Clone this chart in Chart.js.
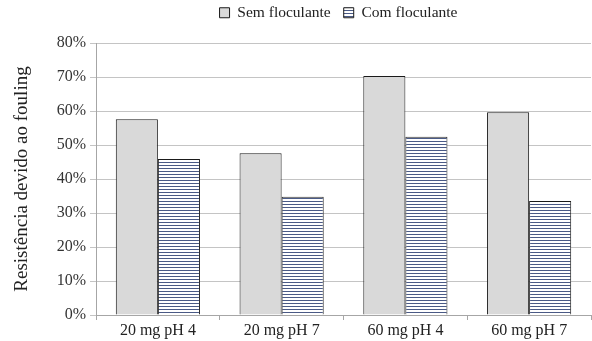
<!DOCTYPE html>
<html>
<head>
<meta charset="utf-8">
<script src="https://cdn.jsdelivr.net/npm/chart.js@4.4.1/dist/chart.umd.min.js"></script>
<style>
  html, body { margin: 0; padding: 0; background: #fff; }
  #wrap { width: 592px; height: 341px; position: relative; }
</style>
</head>
<body>
<div id="wrap"><canvas id="c"></canvas></div>
<script>
// Resistência devido ao fouling - sem vs com floculante
const categories = ['20 mg pH 4', '20 mg pH 7', '60 mg pH 4', '60 mg pH 7'];
const semFloculante = [57.6, 47.6, 70.3, 59.6];
const comFloculante = [45.9, 34.8, 52.4, 33.5];
const yTicks = [0, 10, 20, 30, 40, 50, 60, 70, 80];

const serif = '"Liberation Serif", "DejaVu Serif", serif';

// horizontal stripes for the "com" series
function stripePattern() {
  const p = document.createElement('canvas');
  p.width = 4; p.height = 3;
  const g = p.getContext('2d');
  g.fillStyle = '#ffffff';
  g.fillRect(0, 0, 4, 3);
  g.fillStyle = '#4a5a86';
  g.fillRect(0, 0, 4, 1);
  return g.createPattern(p, 'repeat');
}
const stripes = stripePattern();

// legend sits over the plot area, not the whole canvas; fixed height
const legendTweak = {
  id: 'legendTweak',
  beforeInit(chart) {
    const lg = chart.legend;
    const fit = lg.fit, draw = lg.draw;
    lg.fit = function () { fit.call(this); this.height = 43; };
    lg.draw = function () {
      this.ctx.save();
      this.ctx.translate(43, -8);
      draw.call(this);
      this.ctx.restore();
    };
  }
};

new Chart(document.getElementById('c').getContext('2d'), {
  type: 'bar',
  data: {
    labels: categories,
    datasets: [
      {
        label: 'Sem floculante', data: semFloculante,
        backgroundColor: '#d9d9d9', borderColor: '#1a1a1a', borderWidth: 1,
        categoryPercentage: 0.68, barPercentage: 1
      },
      {
        label: 'Com floculante', data: comFloculante,
        backgroundColor: stripes, borderColor: '#1a1a1a', borderWidth: 1,
        categoryPercentage: 0.68, barPercentage: 1
      }
    ]
  },
  plugins: [legendTweak],
  options: {
    responsive: true, maintainAspectRatio: false, animation: false,
    layout: {padding: {top: 0, right: 1, left: 0, bottom: 0}},
    scales: {
      x: {
        afterFit: s => { s.height = 26; },
        grid: {drawOnChartArea: false, drawTicks: true, tickLength: 5, color: '#a6a6a6'},
        border: {color: '#a6a6a6'},
        ticks: {color: '#222', font: {family: serif, size: 16}, padding: 1}
      },
      y: {
        min: 0, max: 80,
        afterBuildTicks: s => { s.ticks = yTicks.map(v => ({value: v})); },
        afterFit: s => { s.width = 96; },
        grid: {color: '#c4c4c4', tickLength: 6},
        border: {color: '#a6a6a6'},
        ticks: {color: '#333', font: {family: serif, size: 16}, padding: 4, callback: v => v + '%'},
        title: {display: true, text: 'Resistência devido ao fouling', color: '#222', font: {family: serif, size: 19}, padding: {top: 11, bottom: 4}}
      }
    },
    plugins: {
      legend: {
        position: 'top',
        labels: {color: '#222', font: {family: serif, size: 15.5}, boxWidth: 10, boxHeight: 10, padding: 13, useBorderRadius: false}
      },
      tooltip: {enabled: false}
    }
  }
});
</script>
</body>
</html>
